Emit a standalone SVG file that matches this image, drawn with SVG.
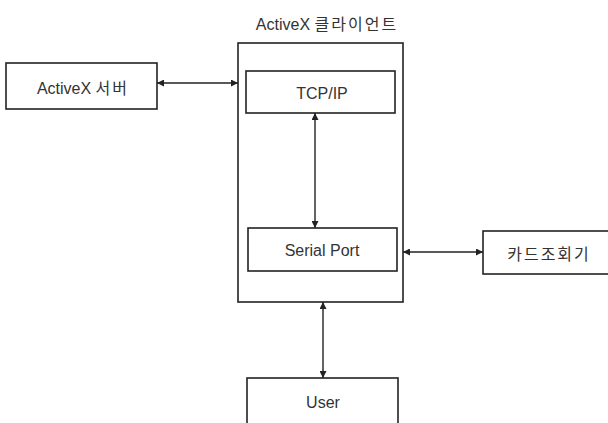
<svg xmlns="http://www.w3.org/2000/svg" width="608" height="423" viewBox="0 0 608 423">
<defs>
<marker id="ah" viewBox="0 0 10 10" refX="10" refY="5" markerWidth="7" markerHeight="7" markerUnits="userSpaceOnUse" orient="auto-start-reverse">
<path d="M0,0 L10,5 L0,10 z" fill="#222"/>
</marker>
<style>
.box{fill:#fff;stroke:#222;stroke-width:1.6}
.lbl{font-family:"Liberation Sans","Noto Sans CJK KR",sans-serif;font-size:16px;fill:#333;text-anchor:middle}
.ko{letter-spacing:2px}
.con{stroke:#222;stroke-width:1.4;fill:none;marker-start:url(#ah);marker-end:url(#ah)}
</style>
</defs>
<rect width="608" height="423" fill="#fff"/>
<g id="client">
<rect class="box" x="238" y="43" width="165" height="259"/>
<text class="lbl" x="327" y="30">ActiveX <tspan class="ko">클라이언트</tspan></text>
</g>
<g id="server">
<rect class="box" x="6" y="63" width="151" height="46"/>
<text class="lbl" x="83" y="94">ActiveX <tspan class="ko">서버</tspan></text>
</g>
<g id="tcpip">
<rect class="box" x="246" y="71" width="149" height="42"/>
<text class="lbl" x="322" y="99">TCP/IP</text>
</g>
<g id="serial">
<rect class="box" x="248" y="228" width="149" height="43"/>
<text class="lbl" x="322" y="256">Serial Port</text>
</g>
<g id="card">
<rect class="box" x="483" y="231" width="140" height="43"/>
<text class="lbl ko" x="549" y="260">카드조회기</text>
</g>
<g id="user">
<rect class="box" x="247" y="378" width="151" height="60"/>
<text class="lbl" x="323" y="408">User</text>
</g>
<g id="connectors">
<line class="con" x1="157" y1="83" x2="238" y2="83"/>
<line class="con" x1="315" y1="113" x2="315" y2="228"/>
<line class="con" x1="403" y1="252" x2="483" y2="252"/>
<line class="con" x1="323" y1="302" x2="323" y2="378"/>
</g>
</svg>
